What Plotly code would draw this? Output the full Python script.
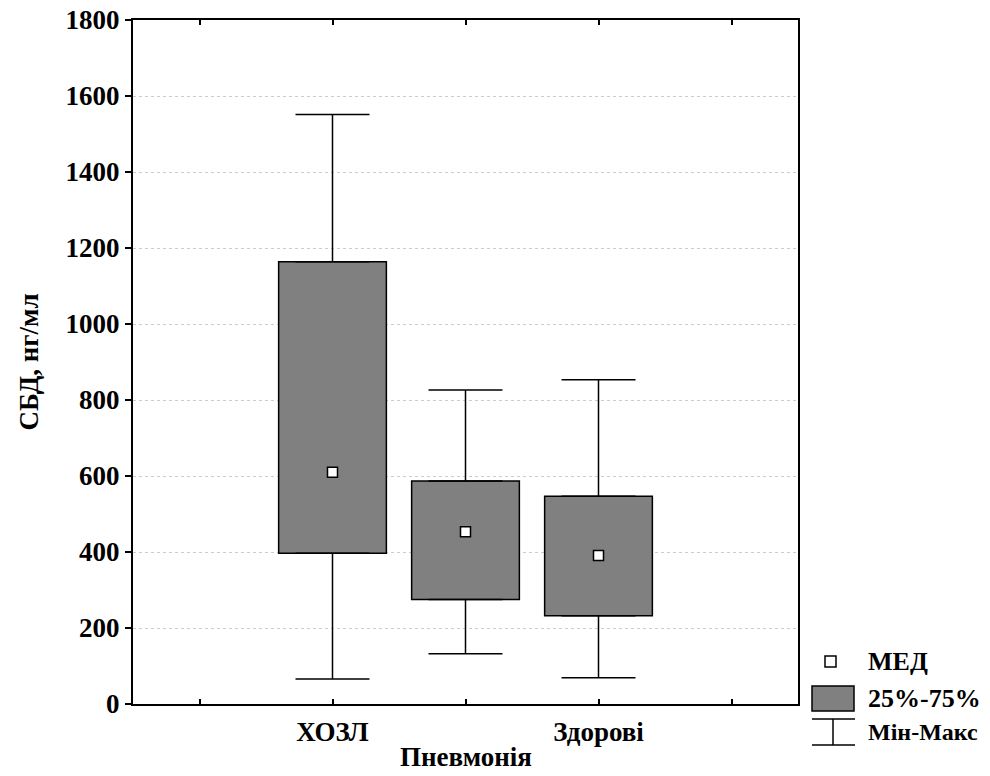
import plotly.graph_objects as go

categories = ["ХОЗЛ", "Пневмонія", "Здорові"]
positions = [1, 2, 3]
min_vals = [66, 132, 69]
q1_vals = [397, 275, 232]
median_vals = [610, 453, 391]
q3_vals = [1164, 587, 547]
max_vals = [1551, 826, 853]

tick_vals = [0, 1, 2, 3, 4]
tick_text = ["", "ХОЗЛ", "", "Здорові", ""]
staggered = {2: "Пневмонія"}
y_ticks = [0, 200, 400, 600, 800, 1000, 1200, 1400, 1600, 1800]

FONT = "Liberation Serif"
FS = 27
OFF = 8  # page body margin
W, H = 990 - OFF, 776 - OFF
fig = go.Figure()

# boxes (25%-75%)
fig.add_trace(go.Bar(
    x=positions, base=q1_vals, y=[q3 - q1 for q1, q3 in zip(q1_vals, q3_vals)],
    width=0.81, marker=dict(color="#808080", line=dict(color="black", width=1.5)),
    showlegend=False, hoverinfo="skip"))

# upper whiskers
fig.add_trace(go.Scatter(
    x=positions, y=q3_vals, mode="markers", marker=dict(size=1, opacity=0),
    error_y=dict(type="data", symmetric=False,
                 array=[mx - q3 for mx, q3 in zip(max_vals, q3_vals)],
                 arrayminus=[0, 0, 0], color="black", thickness=1.5, width=37),
    showlegend=False, hoverinfo="skip"))
# lower whiskers
fig.add_trace(go.Scatter(
    x=positions, y=q1_vals, mode="markers", marker=dict(size=1, opacity=0),
    error_y=dict(type="data", symmetric=False, array=[0, 0, 0],
                 arrayminus=[q1 - mn for q1, mn in zip(q1_vals, min_vals)],
                 color="black", thickness=1.5, width=37),
    showlegend=False, hoverinfo="skip"))
# medians
fig.add_trace(go.Scatter(
    x=positions, y=median_vals, mode="markers",
    marker=dict(symbol="square", size=10, color="white", line=dict(color="black", width=1.5)),
    showlegend=False))

# plot area in screen pixels
L, R, T, B = 133, 798, 20, 704
def px(x): return (x - L) / (R - L)
def py(y): return (B - y) / (B - T)

shapes = [
    dict(type="rect", xref="paper", yref="paper", x0=px(825), x1=px(836), y0=py(667), y1=py(656),
         fillcolor="white", line=dict(color="black", width=1.5)),
    dict(type="rect", xref="paper", yref="paper", x0=px(812), x1=px(854), y0=py(711), y1=py(686),
         fillcolor="#808080", line=dict(color="black", width=1.5)),
    dict(type="line", xref="paper", yref="paper", x0=px(812), x1=px(855), y0=py(719), y1=py(719),
         line=dict(color="black", width=1.5)),
    dict(type="line", xref="paper", yref="paper", x0=px(833), x1=px(833), y0=py(719), y1=py(745),
         line=dict(color="black", width=1.5)),
    dict(type="line", xref="paper", yref="paper", x0=px(812), x1=px(855), y0=py(745), y1=py(745),
         line=dict(color="black", width=1.5)),
]
legend_labels = ["МЕД", "25%-75%", "Мін-Макс"]
legend_y = [661, 698, 732]
legend_fs = [26, 26, 24]
annotations = [dict(text="<b>%s</b>" % t, xref="paper", yref="paper", x=px(866), y=py(yy),
                    xanchor="left", yanchor="middle", showarrow=False,
                    font=dict(family=FONT, size=fs, color="black"))
               for t, yy, fs in zip(legend_labels, legend_y, legend_fs)]
for pos, lab in staggered.items():
    annotations.append(dict(text="<b>%s</b>" % lab, xref="x", yref="paper", x=pos, y=py(757),
                            xanchor="center", yanchor="middle", showarrow=False,
                            font=dict(family=FONT, size=FS, color="black")))

fig.update_layout(
    width=W, height=H,
    margin=dict(l=L - OFF, r=990 - R, t=T - OFF, b=776 - B),
    plot_bgcolor="white", paper_bgcolor="white",
    font=dict(family=FONT, size=FS, color="black"),
    shapes=shapes, annotations=annotations, showlegend=False,
    xaxis=dict(range=[-0.5, 4.5], tickmode="array", tickvals=tick_vals, ticktext=tick_text,
               ticks="inside", ticklen=5, tickwidth=1.5, tickcolor="black",
               showline=True, linecolor="black", linewidth=2, mirror="allticks",
               showgrid=False, zeroline=False, automargin=False, ticklabelstandoff=3,
               ticklabeloverflow="allow",
               tickfont=dict(family=FONT, size=FS, color="black", weight="bold")),
    yaxis=dict(range=[0, 1800], tickmode="array", tickvals=y_ticks,
               ticks="outside", ticklen=6, tickwidth=1.5, tickcolor="black",
               showline=True, linecolor="black", linewidth=2, mirror=True,
               showgrid=True, gridcolor="#cccccc", griddash="dot", gridwidth=1,
               zeroline=False, automargin=False, ticklabeloverflow="allow",
               tickfont=dict(family=FONT, size=FS, color="black", weight="bold"),
               title=dict(text="<b>СБД, нг/мл</b>", font=dict(family=FONT, size=FS), standoff=19)),
)

fig.write_html("out.html")
